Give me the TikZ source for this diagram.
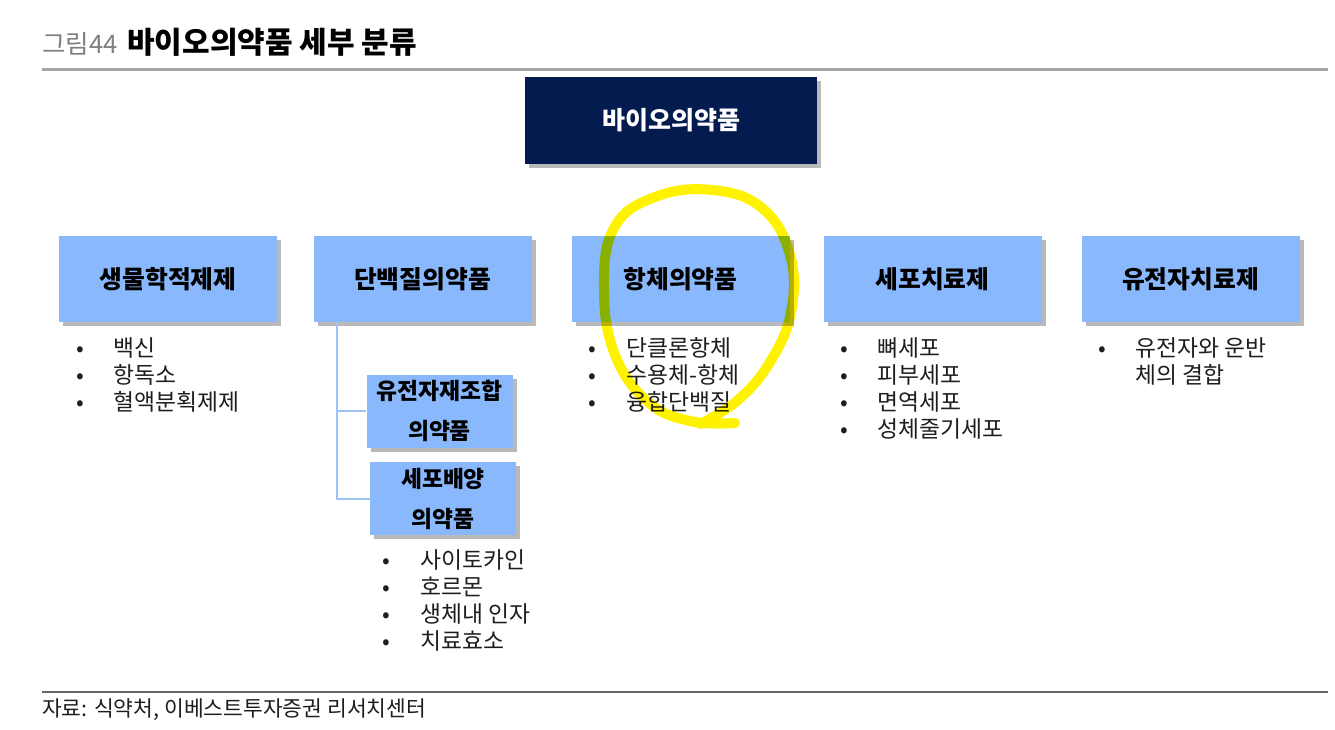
\documentclass[tikz,border=0pt]{standalone}
\usepackage{fontspec}
\setmainfont{Noto Sans CJK KR}
\usetikzlibrary{shadows}
\definecolor{navy}{RGB}{3,27,78}
\definecolor{skyblue}{RGB}{137,185,252}
\definecolor{linkblue}{RGB}{158,196,246}
\definecolor{rulegray}{RGB}{166,166,166}
\definecolor{inkgray}{RGB}{30,30,30}

\begin{document}
\begin{tikzpicture}[x=1pt,y=-1pt,
	boxshadow/.style={drop shadow={shadow xshift=4pt,shadow yshift=-4pt,fill=black!50,opacity=0.55}},
	bullets/.style={anchor=base west,inner sep=0pt,text=inkgray,font=\fontsize{22.8}{27.2}\selectfont}]
	\useasboundingbox (0,0) rectangle (1335,730);
	\fill[white] (0,0) rectangle (1335,730);

	\node[anchor=base west,inner sep=0pt,text=black!50,font=\fontsize{25.5}{28}\selectfont] (fig) at (42,54) {그림44};
	\node[anchor=base west,inner sep=0pt,font=\fontsize{30}{34}\selectfont\bfseries] (title) at (127,54) {바이오의약품 세부 분류};
	\draw[rulegray,line width=3pt] (42,70) -- (1328,70);

	\node[boxshadow,fill=navy,text=white,minimum width=292pt,minimum height=87pt,font=\fontsize{25}{28}\selectfont\bfseries] (top) at (671,120.5) {바이오의약품};

	\begin{scope}[every node/.style={boxshadow,fill=skyblue,minimum width=218pt,minimum height=86pt,font=\fontsize{24.8}{28}\selectfont\bfseries}]
	\node (A) at (168,279) {생물학적제제};
	\node (B) at (422.5,279) {단백질의약품};
	\node (C) at (680.5,279) {항체의약품};
	\node (D) at (932.5,279) {세포치료제};
	\node (E) at (1190.5,279) {유전자치료제};
	\end{scope}

	\begin{scope}[every node/.style={boxshadow,fill=skyblue,minimum width=146pt,minimum height=73pt,align=center,font=\fontsize{22.8}{40}\selectfont\bfseries}]
	\node (B1) at (439.5,411) {유전자재조합\\의약품};
	\node (B2) at (443,498.5) {세포배양\\의약품};
	\end{scope}
	\draw[linkblue,line width=2pt] (B.south west) ++(24,0) |- (B2.west);
	\draw[linkblue,line width=2pt] (337,411) -- (B1.west);

	\node[bullets] (Alist) at (76,356) {\begin{tabular}[t]{@{}p{37pt}@{}l@{}}•&백신\\•&항독소\\•&혈액분획제제\end{tabular}};
	\node[bullets] (Clist) at (588,356) {\begin{tabular}[t]{@{}p{38pt}@{}l@{}}•&단클론항체\\•&수용체-항체\\•&융합단백질\end{tabular}};
	\node[bullets] (Dlist) at (840,356) {\begin{tabular}[t]{@{}p{37pt}@{}l@{}}•&뼈세포\\•&피부세포\\•&면역세포\\•&성체줄기세포\end{tabular}};
	\node[bullets] (Elist) at (1098,356) {\begin{tabular}[t]{@{}p{37pt}@{}l@{}}•&유전자와 운반\\&체의 결합\end{tabular}};
	\node[bullets] (Blist) at (382,568) {\begin{tabular}[t]{@{}p{38pt}@{}l@{}}•&사이토카인\\•&호르몬\\•&생체내 인자\\•&치료효소\end{tabular}};

	\begin{scope}[blend mode=multiply]
	\draw[yellow,line width=10pt,line cap=round] plot[smooth,tension=0.7] coordinates {(735,423) (690,421) (648,402) (615,355) (604,290) (614,228) (655,197) (712,190) (762,208) (790,255) (791,312) (770,362) (738,400) (700,424)};
	\end{scope}

	\draw[black!60,line width=1.5pt] (42,692) -- (1328,692);
	\node[anchor=base west,inner sep=0pt,text=inkgray,font=\fontsize{21.5}{24}\selectfont] (src) at (42,716) {자료: 식약처, 이베스트투자증권 리서치센터};
\end{tikzpicture}
\end{document}
